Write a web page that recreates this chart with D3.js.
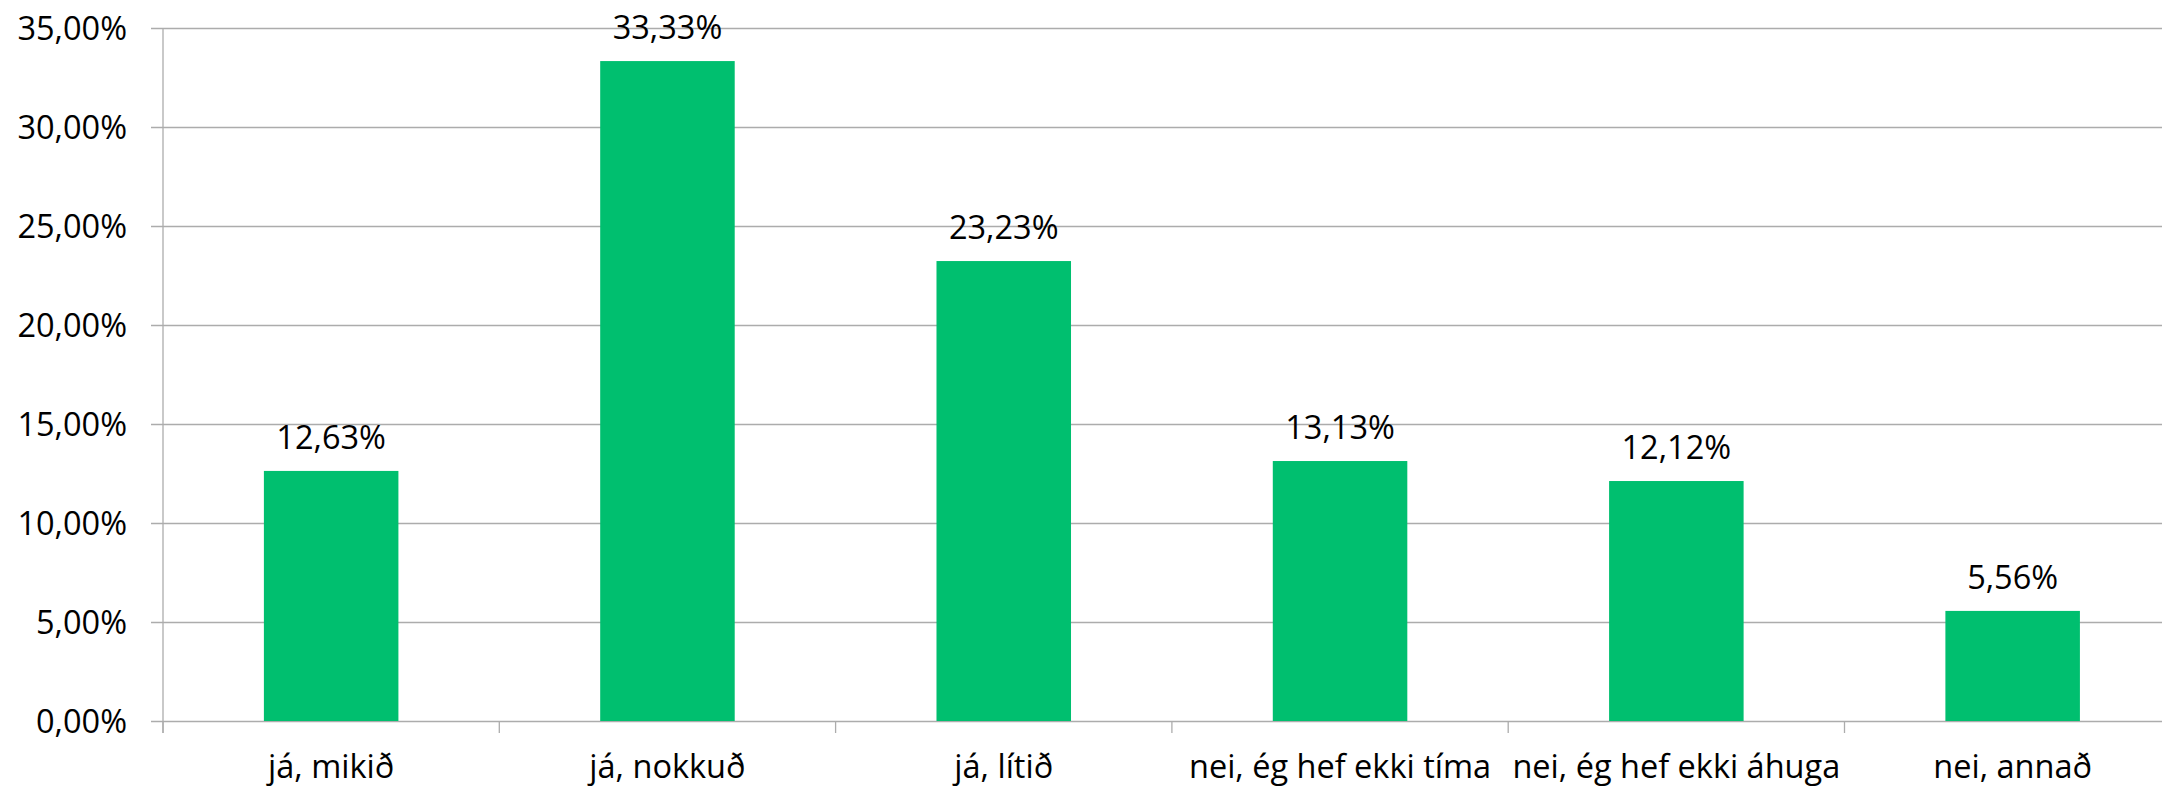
<!DOCTYPE html>
<html>
<head>
<meta charset="utf-8">
<script src="https://cdn.jsdelivr.net/npm/d3@7"></script>
<style>
  html, body { margin: 0; padding: 0; background: #fff; }
  svg { display: block; }
  text { font-family: "Open Sans", "Noto Sans", sans-serif; fill: #000; }
</style>
</head>
<body>
<svg id="chart" width="2162" height="790"></svg>
<script>
// Survey answers and their shares (percent)
const categories = ["já, mikið", "já, nokkuð", "já, lítið", "nei, ég hef ekki tíma", "nei, ég hef ekki áhuga", "nei, annað"];
const values = [12.63, 33.33, 23.23, 13.13, 12.12, 5.56];
const yTicks = [0, 5, 10, 15, 20, 25, 30, 35];

const fmt = v => d3.format(".2f")(v).replace(".", ",") + "%";

const svg = d3.select("#chart");
const plotLeft = 163, plotTop = 28, plotBottom = 721;
const step = 336.3;
const plotRight = plotLeft + step * categories.length;

const x = d3.scaleBand().domain(categories).range([plotLeft, plotRight]).paddingInner(0.6).paddingOuter(0.3);
const y = d3.scaleLinear().domain([0, 35]).range([plotBottom, plotTop]);

const gridColor = "#acacac";
const fontSize = 32.5;

// horizontal gridlines with short outer ticks on the value axis
const yAxis = d3.axisLeft(y).tickValues(yTicks).tickSize(-(2162 - plotLeft)).tickFormat(fmt).tickPadding(36);
const gy = svg.append("g").attr("transform", `translate(${plotLeft},0)`).call(yAxis);
gy.select(".domain").remove();
gy.selectAll(".tick line").attr("x1", -12).attr("stroke", gridColor).attr("stroke-width", 1.3);
gy.selectAll(".tick text")
  .attr("font-size", fontSize)
  .attr("dy", "0.34em")
  .style("font-family", "'Open Sans', sans-serif")
  .attr("fill", "#000");

// value axis line
svg.append("line")
  .attr("x1", plotLeft).attr("x2", plotLeft)
  .attr("y1", y(35)).attr("y2", plotBottom + 12)
  .attr("stroke", gridColor).attr("stroke-width", 1.3);

// category boundary ticks under the baseline
svg.append("g").selectAll("line").data(d3.range(categories.length)).join("line")
  .attr("x1", i => plotLeft + i * x.step())
  .attr("x2", i => plotLeft + i * x.step())
  .attr("y1", plotBottom).attr("y2", plotBottom + 12)
  .attr("stroke", gridColor).attr("stroke-width", 1.3);

// bars
svg.append("g").selectAll("rect").data(values).join("rect")
  .attr("x", (d, i) => x(categories[i]))
  .attr("width", x.bandwidth())
  .attr("y", d => y(d))
  .attr("height", d => plotBottom - y(d))
  .attr("fill", "#00bf6f");

// value labels above bars
svg.append("g").selectAll("text").data(values).join("text")
  .attr("x", (d, i) => x(categories[i]) + x.bandwidth() / 2)
  .attr("y", d => y(d) - 22)
  .attr("text-anchor", "middle")
  .attr("font-size", fontSize)
  .text(d => fmt(d));

// category labels
svg.append("g").selectAll("text").data(categories).join("text")
  .attr("x", d => x(d) + x.bandwidth() / 2)
  .attr("y", 778)
  .attr("text-anchor", "middle")
  .attr("font-size", fontSize)
  .text(d => d);
</script>
</body>
</html>
